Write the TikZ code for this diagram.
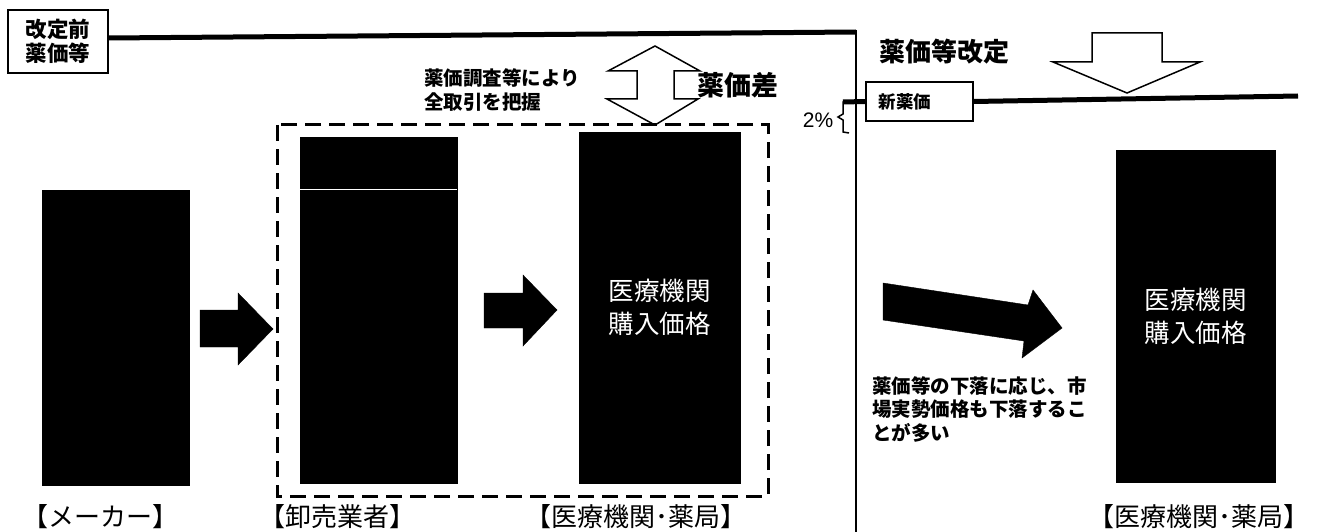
\documentclass[tikz,border=0pt]{standalone}
\usepackage{fontspec}
\setmainfont{Noto Sans CJK JP}
\newfontfamily\arialfont{Liberation Sans}
\newcommand\fsz[2]{\fontsize{#1}{#2}\selectfont}
\begin{document}
\begin{tikzpicture}[x=1pt,y=-1pt,
  pricebar/.style={line width=5pt},
  labelbox/.style={draw,line width=1.5pt,fill=white,inner sep=0pt},
  blackbar/.style={fill=black,draw=black,inner sep=0pt,text=white,align=center,font=\fsz{25.5}{33}},
  hollowarrow/.style={draw=black,line width=1.5pt,fill=white,line join=miter},
  solidarrow/.style={fill=black,draw=black},
  bottomlbl/.style={font=\fsz{26}{30},inner sep=0pt},
  note/.style={align=left,inner sep=0pt,font=\bfseries\fsz{19.5}{23.5}}]
\useasboundingbox (0,0) rectangle (1327,532);
\fill[white] (0,0) rectangle (1327,532);

% old price label and bar
\node[labelbox,minimum width=100pt,minimum height=63pt,align=center,font=\bfseries\fsz{21.5}{24}] (oldlbl) at (58,41.5) {改定前\\薬価等};
\coordinate (corner) at (856,32);
\coordinate (divbottom) at (856,532);
\draw[pricebar] ([yshift=3.5pt]oldlbl.east) -- (corner);
\draw[line width=2.5pt] ([yshift=2pt]corner) -- (divbottom);

% price gap arrow and labels
\draw[hollowarrow] (655,46) -- (700,71) -- (674,71) -- (674,99) -- (698,99) -- (655,125)
  -- (607,99) -- (637,99) -- (637,71) -- (608,71) -- cycle;
\node[font=\bfseries\fsz{27}{30},inner sep=0pt] (gap) at (738,85) {薬価差};
\node[note,anchor=west,font=\bfseries\fsz{19.5}{24}] (survey) at (424,90) {薬価調査等により\\全取引を把握};

% dashed frame
\draw[line width=3pt,dash pattern=on 16pt off 8pt] (277,125) rectangle (768,496);

% bars
\node[blackbar,minimum width=147pt,minimum height=295pt] (maker) at (115.5,337.5) {};
\node[blackbar,minimum width=157pt,minimum height=52pt] (wholetop) at (378.5,163) {};
\node[blackbar,minimum width=157pt,minimum height=293pt] (wholesale) at (378.5,336.5) {};
\draw[white,line width=1.2pt] ([yshift=0.6pt]wholesale.north west) -- ([yshift=0.6pt]wholesale.north east);
\node[blackbar,minimum width=161pt,minimum height=351pt] (hosp) at (659.5,307.5) {医療機関\\購入価格};
\node[blackbar,minimum width=159pt,minimum height=332pt] (hospnew) at (1195.5,316) {医療機関\\購入価格};

% block arrows
\fill[solidarrow] (200,310) -- (238,310) -- (238,293) -- (273,329) -- (238,365) -- (238,347) -- (200,347) -- cycle;
\fill[solidarrow] (484,293) -- (523,293) -- (523,275) -- (557,310) -- (523,346) -- (523,328) -- (484,328) -- cycle;
\fill[solidarrow] (883,283) -- (1028,305) -- (1033,290) -- (1062,328) -- (1022,358) -- (1024,341) -- (883,320) -- cycle;

% new price
\node[labelbox,minimum width=107pt,minimum height=39pt,text width=82pt,align=left,font=\bfseries\fsz{17.5}{20}] (newlbl) at (919.5,101.5) {新薬価};
\draw[pricebar] (newlbl.east) -- (1298,96);
\draw[pricebar] (843,102) -- (newlbl.west);
\draw[line width=1.5pt] (849,101) -- (843,102) -- (843,114) -- (838,117) -- (843,120) -- (843,132) -- (849,133);
\node[inner sep=0pt,font=\arialfont\fsz{21}{24}] (pct) at (818,120) {2\%};

% revision
\node[font=\bfseries\fsz{26}{30},inner sep=0pt,anchor=west] (revise) at (879,52) {薬価等改定};
\draw[hollowarrow] (1092,33) -- (1162,33) -- (1162,62) -- (1200,62) -- (1127,93) -- (1053,62) -- (1092,62) -- cycle;

% note
\node[note,anchor=north west] (fallnote) at (872,376) {薬価等の下落に応じ、市\\場実勢価格も下落するこ\\とが多い};

% bottom labels
\node[bottomlbl] (lmaker) at (100,517) {【メーカー】};
\node[bottomlbl] (lwhole) at (337,517) {【卸売業者】};
\node[bottomlbl] (lhosp) at (636,517) {【医療機関･薬局】};
\node[bottomlbl] (lhospnew) at (1199,517) {【医療機関･薬局】};
\end{tikzpicture}
\end{document}
